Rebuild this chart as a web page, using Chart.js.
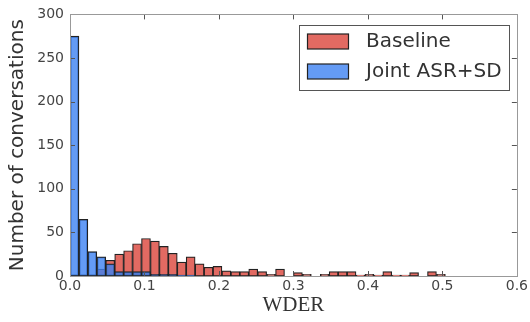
<!DOCTYPE html>
<html>
<head>
<meta charset="utf-8">
<script src="https://cdn.jsdelivr.net/npm/chart.js@4.4.1/dist/chart.umd.min.js"></script>
<style>
  html, body { margin: 0; padding: 0; background: #fff; }
  canvas { display: block; }
</style>
</head>
<body>
<canvas id="werChart" width="530" height="322"></canvas>
<script>
// histogram bins of width 0.012 starting at 0
const BIN_WIDTH = 0.012;

const baselineCounts = [
    0, 0, 0, 8, 18, 25, 29, 37, 43, 40,
    34, 26, 16, 22, 14, 10, 11, 6, 5, 5,
    8, 5, 2, 8, 0, 4, 2, 0, 2, 5,
    5, 5, 1, 2, 1, 5, 1, 1, 4, 0,
    5, 2
];
const jointCounts = [275, 65, 28, 22, 14, 5, 5, 5, 5, 2, 2, 2, 1, 1];

const xTicks = [0, 0.1, 0.2, 0.3, 0.4, 0.5, 0.6];
const yTicks = [0, 50, 100, 150, 200, 250, 300];

const labels = ['Baseline', 'Joint ASR+SD'];
const red = 'rgb(226,106,98)';
const blue = 'rgba(61,130,242,0.8)';
const blueSolid = 'rgb(100,155,245)';

const toPoints = (counts) => counts.map((c, i) => ({ x: (i + 0.5) * BIN_WIDTH, y: c }));

// inward ticks on all four sides + grey frame, like the matplotlib classic style
const frameTicks = {
    id: 'frameTicks',
    afterDraw(chart) {
        const { ctx, chartArea: a, scales: { x, y } } = chart;
        ctx.save();
        ctx.strokeStyle = '#555';
        ctx.lineWidth = 1;
        ctx.beginPath();
        xTicks.forEach(v => {
            const px = Math.round(x.getPixelForValue(v)) + 0.5;
            ctx.moveTo(px, a.bottom); ctx.lineTo(px, a.bottom - 5);
            ctx.moveTo(px, a.top); ctx.lineTo(px, a.top + 5);
        });
        yTicks.forEach(v => {
            const py = Math.round(y.getPixelForValue(v)) + 0.5;
            ctx.moveTo(a.left, py); ctx.lineTo(a.left + 5, py);
            ctx.moveTo(a.right, py); ctx.lineTo(a.right - 5, py);
        });
        ctx.stroke();
        ctx.strokeStyle = '#999';
        ctx.strokeRect(Math.round(a.left) + 0.5, Math.round(a.top) + 0.5,
            Math.round(a.right - a.left), Math.round(a.bottom - a.top));
        ctx.restore();
    }
};

// legend box inside the plot, top right
const boxLegend = {
    id: 'boxLegend',
    afterDraw(chart) {
        const ctx = chart.ctx;
        const bx = 299.5, by = 25.5, bw = 210, bh = 65;
        ctx.save();
        ctx.fillStyle = '#fff';
        ctx.fillRect(bx, by, bw, bh);
        ctx.strokeStyle = '#555';
        ctx.lineWidth = 1;
        ctx.strokeRect(bx, by, bw, bh);
        const fills = [red, blueSolid];
        ctx.font = '20px "DejaVu Sans"';
        ctx.textBaseline = 'middle';
        labels.forEach((lab, i) => {
            const cy = 41.5 + i * 30;
            ctx.fillStyle = fills[i];
            ctx.fillRect(307.5, cy - 7.5, 41, 15);
            ctx.strokeStyle = '#222';
            ctx.lineWidth = 1.2;
            ctx.strokeRect(307.5, cy - 7.5, 41, 15);
            ctx.fillStyle = '#333';
            ctx.fillText(lab, 366, cy);
        });
        ctx.restore();
    }
};

const ctx = document.getElementById('werChart').getContext('2d');
new Chart(ctx, {
    type: 'bar',
    data: {
        datasets: [
            {
                label: labels[0],
                data: toPoints(baselineCounts),
                backgroundColor: red,
                borderColor: '#222',
                borderWidth: 1.2,
                borderSkipped: false,
                grouped: false,
                barPercentage: 1,
                categoryPercentage: 1,
                order: 2
            },
            {
                label: labels[1],
                data: toPoints(jointCounts),
                backgroundColor: blue,
                borderColor: '#222',
                borderWidth: 1.2,
                borderSkipped: false,
                grouped: false,
                barPercentage: 1,
                categoryPercentage: 1,
                order: 1
            }
        ]
    },
    options: {
        responsive: false,
        animation: false,
        layout: { padding: { top: 11, right: 13, left: 0, bottom: 0 } },
        plugins: {
            legend: { display: false },
            tooltip: { enabled: false }
        },
        scales: {
            x: {
                type: 'linear',
                min: 0,
                max: 0.6,
                offset: false,
                afterFit: s => { s.height = 46; },
                afterBuildTicks: s => { s.ticks = xTicks.map(v => ({ value: v })); },
                grid: { display: false, drawTicks: false, offset: false },
                border: { display: false },
                ticks: {
                    autoSkip: false,
                    maxRotation: 0,
                    padding: 2,
                    color: '#444',
                    font: { family: 'DejaVu Sans', size: 14 },
                    callback: v => v.toFixed(1)
                },
                title: {
                    display: true,
                    text: 'WDER',
                    color: '#333',
                    font: { family: 'Liberation Serif', size: 21 },
                    padding: { top: 0, bottom: 4 }
                }
            },
            y: {
                min: 0,
                max: 300,
                afterFit: s => { s.width = 70; },
                afterBuildTicks: s => { s.ticks = yTicks.map(v => ({ value: v })); },
                grid: { display: false, drawTicks: false },
                border: { display: false },
                ticks: {
                    padding: 6,
                    color: '#444',
                    font: { family: 'DejaVu Sans', size: 14 }
                },
                title: {
                    display: true,
                    text: 'Number of conversations',
                    color: '#333',
                    font: { family: 'DejaVu Sans', size: 20 },
                    padding: { top: 6, bottom: 0 }
                }
            }
        }
    },
    plugins: [frameTicks, boxLegend]
});
</script>
</body>
</html>
